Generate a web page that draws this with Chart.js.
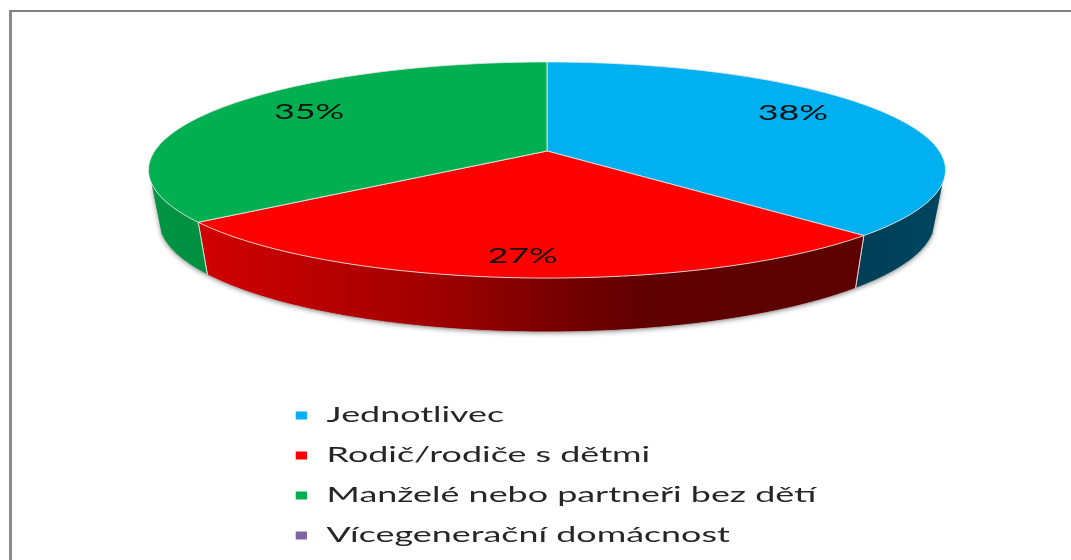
<!DOCTYPE html>
<html>
<head>
<meta charset="utf-8">
<script src="https://cdn.jsdelivr.net/npm/chart.js@4/dist/chart.umd.js"></script>
<style>
html,body{margin:0;padding:0;background:#fff;overflow:hidden}
#wrap{position:relative;width:1071px;height:560px}
#frame{position:absolute;left:9px;top:10px;right:0;bottom:-5px;border-left:3px solid #8a8a8a;border-top:2px solid #808080}
canvas{position:absolute;left:0;top:0}
</style>
</head>
<body>
<div id="wrap"><div id="frame"></div><canvas id="c" width="1071" height="560"></canvas></div>
<script>
const categories = ['Jednotlivec','Rodič/rodiče s dětmi','Manželé nebo partneři bez dětí','Vícegenerační domácnost'];
const shares = [37.5, 27.1, 35.4, 0];
const sliceColors = ['#00b0f0','#ff0000','#00b050','#8064a2'];

const FONT = 'Lato';
const STRETCH = 1.708;
const LEGEND_DROP = 40;
const topPlane = {cx:547, cy:151, R:392.3, S:104.7, k:0.176};
const basePlane = {cx:547, cy:201.4, R:382, S:107.6, k:0.176};
const wallFrom = 107, wallTo = 253;
const shadeStops = [[148,.85],[200,.82],[430,.63],[550,.48],[650,.37],[860,.36],[945,.40]];
const labelRadius = 0.72;
const labelShiftX = [-3,-3,2,0];
const labelShiftY = [-10,19,-7,0];

function proj(p, deg, r){
  const t = deg*Math.PI/180, x = r*Math.sin(t), y = -r*Math.cos(t), d = 1-p.k*y;
  return [p.cx+p.R*x/d, p.cy+p.S*y/d];
}
function hex(c){return [1,3,5].map(i=>parseInt(c.substr(i,2),16));}
function shade(c,f){return 'rgb('+hex(c).map(v=>Math.round(v*f)).join(',')+')';}
function deg(a){return (a+Math.PI/2)*180/Math.PI;}
function arcPts(p,a,b){const o=[],n=Math.max(2,Math.ceil(Math.abs(b-a)));for(let i=0;i<=n;i++)o.push(proj(p,a+(b-a)*i/n,1));return o;}
function trace(ctx,pts,first){pts.forEach((q,i)=>{if(i===0&&first)ctx.moveTo(q[0],q[1]);else ctx.lineTo(q[0],q[1]);});}

const pie3d = {
  id:'pie3d',
  afterLayout(chart){
    const lg = chart.legend;
    if(lg && !lg._wrapped){
      lg._wrapped = true;
      const orig = lg.draw.bind(lg);
      lg.draw = function(){
        const ctx = chart.ctx, ox = lg.left + lg.options.labels.padding;
        ctx.save();
        ctx.filter = 'blur(0.55px)';
        ctx.translate(ox,LEGEND_DROP);ctx.scale(STRETCH,1);ctx.translate(-ox,0);
        orig();
        ctx.restore();
      };
    }
  },
  beforeDatasetsDraw(chart){
    const ctx = chart.ctx, arcs = chart.getDatasetMeta(0).data, ds = chart.data.datasets[0];
    const grad = c => {
      const g = ctx.createLinearGradient(148,0,945,0);
      shadeStops.forEach(s=>g.addColorStop((s[0]-148)/797,shade(c,s[1])));
      return g;
    };
    // soft shadow beneath the side wall
    ctx.save();
    ctx.shadowColor='rgba(0,0,0,.45)';ctx.shadowBlur=5;ctx.shadowOffsetY=1;ctx.fillStyle='#999';
    ctx.beginPath();
    trace(ctx,arcPts(topPlane,wallFrom,wallTo),true);
    trace(ctx,arcPts(basePlane,wallTo,wallFrom),false);
    ctx.closePath();ctx.fill();
    ctx.restore();
    // walls
    arcs.forEach((el,i)=>{
      const a=Math.max(deg(el.startAngle),wallFrom), b=Math.min(deg(el.endAngle),wallTo);
      if(b<=a) return;
      ctx.beginPath();
      trace(ctx,arcPts(topPlane,a,b),true);
      trace(ctx,arcPts(basePlane,b,a),false);
      ctx.closePath();
      ctx.fillStyle=grad(ds.backgroundColor[i]);ctx.fill();
      ctx.strokeStyle='rgba(225,225,225,.9)';ctx.lineWidth=1;
      ctx.beginPath();
      const t0=proj(topPlane,a,1),b0=proj(basePlane,a,1),t1=proj(topPlane,b,1),b1=proj(basePlane,b,1);
      if(a>wallFrom){ctx.moveTo(t0[0],t0[1]);ctx.lineTo(b0[0],b0[1]);}
      if(b<wallTo){ctx.moveTo(t1[0],t1[1]);ctx.lineTo(b1[0],b1[1]);}
      ctx.stroke();
      ctx.strokeStyle='rgba(190,190,190,.8)';
      ctx.beginPath();trace(ctx,arcPts(basePlane,a,b),true);ctx.stroke();
    });
    // top face
    arcs.forEach((el,i)=>{
      const a=deg(el.startAngle), b=deg(el.endAngle);
      if(b-a<0.01) return;
      ctx.beginPath();
      ctx.moveTo(topPlane.cx,topPlane.cy);
      trace(ctx,arcPts(topPlane,a,b),false);
      ctx.closePath();
      ctx.fillStyle=ds.backgroundColor[i];ctx.fill();
      ctx.strokeStyle='rgba(232,232,232,.85)';ctx.lineWidth=1;ctx.stroke();
    });
    // percentage labels
    const total = ds.data.reduce((s,v)=>s+v,0);
    arcs.forEach((el,i)=>{
      if(ds.data[i]<=0) return;
      const q = proj(topPlane,(deg(el.startAngle)+deg(el.endAngle))/2,labelRadius);
      ctx.save();
      ctx.filter='blur(0.45px)';
      ctx.translate(q[0]+labelShiftX[i],q[1]+labelShiftY[i]);ctx.scale(STRETCH,1);
      ctx.font='21px '+FONT;ctx.fillStyle='#111';ctx.textAlign='center';ctx.textBaseline='middle';
      ctx.fillText(Math.round(ds.data[i]/total*100)+'%',0,0);
      ctx.restore();
    });
    return false;
  }
};

new Chart(document.getElementById('c'),{
  type:'pie',
  data:{labels:categories,datasets:[{data:shares,backgroundColor:sliceColors}]},
  options:{
    responsive:false,animation:false,
    layout:{padding:{left:275,top:346,right:0,bottom:0}},
    plugins:{
      tooltip:{enabled:false},
      legend:{
        position:'left',align:'start',
        labels:{font:{family:FONT,size:21},color:'#262626',boxWidth:8.6,boxHeight:10,padding:19}
      }
    }
  },
  plugins:[pie3d]
});
</script>
</body>
</html>
